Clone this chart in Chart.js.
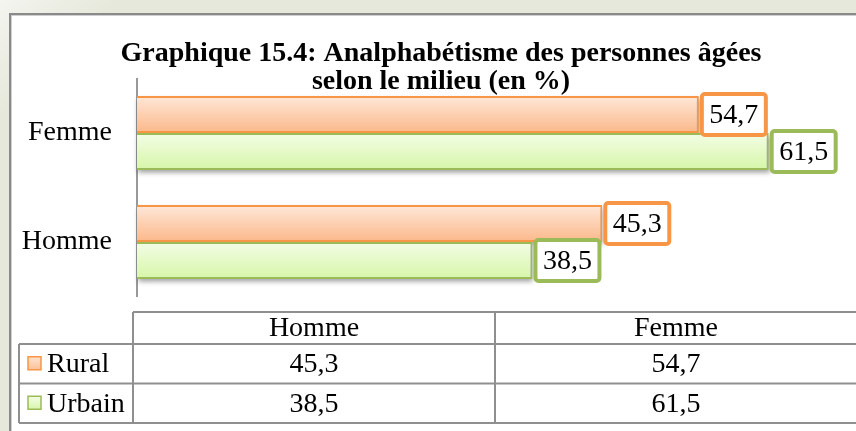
<!DOCTYPE html>
<html>
<head>
<meta charset="utf-8">
<script src="https://cdn.jsdelivr.net/npm/chart.js@4/dist/chart.umd.min.js"></script>
<style>
  html, body { margin: 0; padding: 0; background: #e8ebde; }
  #wrap { width: 856px; height: 431px; position: relative; }
</style>
</head>
<body>
<div id="wrap"><canvas id="chart" width="856" height="431"></canvas></div>
<script>
const titleLines = ['Graphique 15.4: Analphabétisme des personnes âgées', 'selon le milieu (en %)'];
const categories = ['Homme', 'Femme'];
const seriesNames = ['Rural', 'Urbain'];
const rural = [45.3, 54.7];
const urbain = [38.5, 61.5];

const serif = "'Liberation Serif', 'Times New Roman', serif";
const orange = '#f79646', green = '#9bbb59';
const gridGray = '#8f8f8f';
const textSize = 28;

function fmt(v){ return v.toFixed(1).replace('.', ','); }

// vertical gradient per bar, needs element geometry (second update)
function barFill(top, bottom){
  return (c) => {
    if (c.type !== 'data') return bottom;
    const el = c.chart.getDatasetMeta(c.datasetIndex).data[c.dataIndex];
    if (!el || !Number.isFinite(el.y) || !el.height) return bottom;
    const g = c.chart.ctx.createLinearGradient(0, el.y - el.height/2, 0, el.y + el.height/2);
    g.addColorStop(0, top);
    g.addColorStop(1, bottom);
    return g;
  };
}

const frame = {
  id: 'frame',
  beforeDraw(chart){
    const ctx = chart.ctx;
    ctx.save();
    const bg = ctx.createLinearGradient(0, 0, 60, 60);
    bg.addColorStop(0, '#f4f5ef');
    bg.addColorStop(1, '#e5e8da');
    ctx.fillStyle = bg;
    ctx.fillRect(0, 0, chart.width, chart.height);
    ctx.fillStyle = '#fff';
    ctx.fillRect(10, 14, chart.width, chart.height);
    ctx.strokeStyle = '#8a8a8a';
    ctx.lineWidth = 2;
    ctx.strokeRect(10, 14, chart.width + 20, chart.height + 20);
    ctx.strokeStyle = '#cfcfcf';
    ctx.lineWidth = 1;
    ctx.strokeRect(11.5, 15.5, chart.width + 20, chart.height + 20);
    ctx.restore();
  }
};

const titleText = {
  id: 'titleText',
  afterDraw(chart){
    const ctx = chart.ctx;
    ctx.save();
    ctx.font = `bold 28px ${serif}`;
    ctx.fillStyle = '#000';
    ctx.textAlign = 'center';
    ctx.textBaseline = 'alphabetic';
    ctx.fillText(titleLines[0], 441, 61);
    ctx.fillText(titleLines[1], 441, 89);
    ctx.restore();
  }
};

// soft shadow under the bars, drawn as shadow-only (shape kept off canvas)
const barShadow = {
  id: 'barShadow',
  beforeDatasetsDraw(chart){
    const ctx = chart.ctx;
    const off = 3000;
    ctx.save();
    ctx.shadowColor = 'rgba(0,0,0,0.38)';
    ctx.shadowBlur = 5;
    ctx.shadowOffsetX = -off + 1;
    ctx.shadowOffsetY = 3;
    ctx.fillStyle = '#000';
    chart.data.datasets.forEach((ds, di) => {
      chart.getDatasetMeta(di).data.forEach(el => {
        const p = el.getProps(['x', 'y', 'base', 'height']);
        ctx.fillRect(p.base + off, p.y - p.height/2, p.x - p.base, p.height);
      });
    });
    ctx.restore();
  }
};

const valueBoxes = {
  id: 'valueBoxes',
  afterDatasetsDraw(chart){
    const ctx = chart.ctx;
    ctx.save();
    ctx.font = `${textSize}px ${serif}`;
    ctx.textAlign = 'center';
    ctx.textBaseline = 'middle';
    chart.data.datasets.forEach((ds, di) => {
      chart.getDatasetMeta(di).data.forEach((el, i) => {
        const txt = fmt(ds.data[i]);
        const w = ctx.measureText(txt).width + 19;
        const h = 45;
        const x0 = el.x + 1, y0 = el.y - h/2;
        ctx.beginPath();
        ctx.roundRect(x0 + 2, y0 + 2, w - 4, h - 4, 3);
        ctx.fillStyle = '#fff';
        ctx.fill();
        ctx.lineWidth = 4;
        ctx.strokeStyle = ds.borderColor;
        ctx.stroke();
        ctx.fillStyle = '#000';
        ctx.fillText(txt, x0 + w/2, el.y + 1);
      });
    });
    ctx.restore();
  }
};

const dataTable = {
  id: 'dataTable',
  afterDraw(chart){
    const ctx = chart.ctx;
    const area = chart.chartArea;
    const left = 19, c0 = area.left - 4, right = area.right + 1;
    const colW = (right - c0) / categories.length;
    const top = 312, headH = 32, rowH = 39.5;
    const bottom = top + headH + rowH * seriesNames.length;
    ctx.save();
    ctx.strokeStyle = gridGray;
    ctx.lineWidth = 2;
    ctx.beginPath();
    ctx.moveTo(c0, top); ctx.lineTo(right, top);
    for (let r = 0; r <= seriesNames.length; r++){
      const y = top + headH + r * rowH;
      ctx.moveTo(left, y); ctx.lineTo(right, y);
    }
    ctx.moveTo(left, top + headH); ctx.lineTo(left, bottom);
    for (let c = 0; c <= categories.length; c++){
      const x = c0 + c * colW;
      ctx.moveTo(x, top); ctx.lineTo(x, bottom);
    }
    ctx.stroke();

    ctx.font = `${textSize}px ${serif}`;
    ctx.fillStyle = '#000';
    ctx.textBaseline = 'middle';
    ctx.textAlign = 'center';
    categories.forEach((cat, c) => ctx.fillText(cat, c0 + (c + 0.5) * colW, top + headH/2 + 1));

    const values = [rural, urbain];
    const keys = chart.data.datasets;
    seriesNames.forEach((name, r) => {
      const cy = top + headH + (r + 0.5) * rowH;
      ctx.textAlign = 'center';
      values[r].forEach((v, c) => ctx.fillText(fmt(v), c0 + (c + 0.5) * colW, cy + 1));
      // legend key
      const g = ctx.createLinearGradient(0, cy - 7, 0, cy + 7);
      g.addColorStop(0, keys[r].keyTop);
      g.addColorStop(1, keys[r].keyBottom);
      ctx.fillStyle = g;
      ctx.fillRect(28, cy - 7, 13, 13);
      ctx.lineWidth = 1.5;
      ctx.strokeStyle = keys[r].borderColor;
      ctx.strokeRect(28, cy - 7, 13, 13);
      ctx.fillStyle = '#000';
      ctx.textAlign = 'left';
      ctx.fillText(name, 47, cy + 1);
    });
    ctx.restore();
  }
};

const chart = new Chart(document.getElementById('chart'), {
  type: 'bar',
  data: {
    labels: categories,
    datasets: [
      {
        label: seriesNames[0], data: rural,
        backgroundColor: barFill('#fee8d9', '#fbb88a'),
        borderColor: orange, borderWidth: 2,
        keyTop: '#fde3d0', keyBottom: '#fbbf95'
      },
      {
        label: seriesNames[1], data: urbain,
        backgroundColor: barFill('#f3fde6', '#d6f6a8'),
        borderColor: green, borderWidth: 2,
        keyTop: '#f3fde6', keyBottom: '#d6f6a8'
      }
    ]
  },
  options: {
    indexAxis: 'y',
    animation: false,
    responsive: false,
    categoryPercentage: 0.68,
    barPercentage: 1,
    layout: { padding: { top: 78.5, bottom: 134.5, left: 0, right: 0 } },
    scales: {
      x: { display: false, min: 0, max: 70 },
      y: {
        reverse: true,
        grid: { display: false, drawTicks: false },
        border: { display: true, color: '#999', width: 2 },
        ticks: { color: '#000', padding: 25, font: { family: serif, size: textSize } },
        afterFit(scale){ scale.width = 137; }
      }
    },
    plugins: { legend: { display: false }, tooltip: { enabled: false }, title: { display: false } }
  },
  plugins: [frame, barShadow, valueBoxes, dataTable, titleText]
});
chart.update('none');
</script>
</body>
</html>
